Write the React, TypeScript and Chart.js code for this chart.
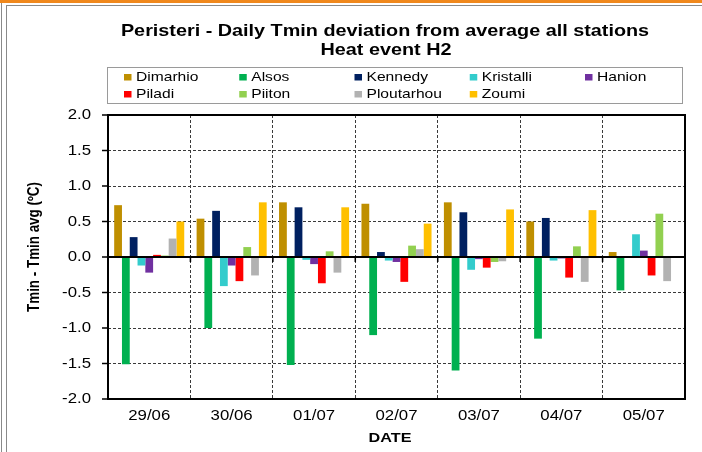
import React, { useEffect, useRef } from "react";
import { Chart, registerables } from "chart.js";

Chart.register(...registerables);

// ---------- data ----------
const dates = ["29/06", "30/06", "01/07", "02/07", "03/07", "04/07", "05/07"];
const stations = ["Dimarhio", "Alsos", "Kennedy", "Kristalli", "Hanion", "Piladi", "Piiton", "Ploutarhou", "Zoumi"];
const dimarhio = [0.73, 0.54, 0.77, 0.75, 0.77, 0.5, 0.07];
const alsos = [-1.51, -1.0, -1.52, -1.1, -1.6, -1.15, -0.47];
const kennedy = [0.28, 0.65, 0.7, 0.07, 0.63, 0.55, 0];
const kristalli = [-0.12, -0.41, -0.04, -0.05, -0.18, -0.05, 0.32];
const hanion = [-0.22, -0.12, -0.1, -0.07, -0.03, -0.02, 0.09];
const piladi = [0.03, -0.34, -0.37, -0.35, -0.15, -0.29, -0.26];
const piiton = [0.02, 0.14, 0.08, 0.16, -0.07, 0.15, 0.61];
const ploutarhou = [0.26, -0.26, -0.22, 0.11, -0.06, -0.35, -0.34];
const zoumi = [0.5, 0.77, 0.7, 0.47, 0.67, 0.66, 0];
const seriesValues = [dimarhio, alsos, kennedy, kristalli, hanion, piladi, piiton, ploutarhou, zoumi];
const seriesColors = ["#BF8F00", "#00B050", "#002060", "#33CCCC", "#7030A0", "#FF0000", "#92D050", "#B2B2B2", "#FFC000"];
const yMin = -2.0;
const yMax = 2.0;
const yStep = 0.5;
const titleLines = ["Peristeri - Daily Tmin deviation from average all stations", "Heat event H2"];
const xTitle = "DATE";
const yTitle = "Tmin - Tmin avg (ºC)";

// ---------- styling ----------
const FONT = "'Liberation Sans', Arial, sans-serif";
const SX = 1.2; // horizontal stretch of all text

function sText(
  ctx: CanvasRenderingContext2D,
  text: string,
  x: number,
  y: number,
  font: string,
  align: CanvasTextAlign,
  baseline: CanvasTextBaseline,
  rot = 0
) {
  ctx.save();
  ctx.translate(x, y);
  ctx.scale(SX, 1);
  if (rot) ctx.rotate(rot);
  ctx.font = font;
  ctx.textAlign = align;
  ctx.textBaseline = baseline;
  ctx.fillStyle = "#000";
  ctx.fillText(text, 0, 0);
  ctx.restore();
}

const framePlugin = {
  id: "frameDeco",
  beforeDraw(chart: any) {
    const ctx: CanvasRenderingContext2D = chart.ctx;
    const W = chart.width;
    const H = chart.height;
    ctx.save();
    ctx.fillStyle = "#fff";
    ctx.fillRect(0, 0, W, H);
    ctx.fillStyle = "#F0881C";
    ctx.fillRect(0, 0, W, 3);
    ctx.strokeStyle = "#8A8A8A";
    ctx.lineWidth = 1;
    ctx.beginPath();
    ctx.moveTo(6, 5.5);
    ctx.lineTo(W, 5.5);
    ctx.moveTo(1.5, 3);
    ctx.lineTo(1.5, H);
    ctx.moveTo(6.5, 5);
    ctx.lineTo(6.5, H);
    ctx.stroke();
    ctx.restore();
  },
  afterDraw(chart: any) {
    const ctx: CanvasRenderingContext2D = chart.ctx;
    const { left, right, top, bottom } = chart.chartArea;
    const xs = chart.scales.x;
    const ys = chart.scales.y;
    ctx.save();
    // zero line
    const y0 = ys.getPixelForValue(0);
    ctx.strokeStyle = "#000";
    ctx.lineWidth = 2;
    ctx.beginPath();
    ctx.moveTo(left, y0);
    ctx.lineTo(right, y0);
    ctx.stroke();
    // category boundary ticks on zero line
    const n = dates.length;
    const cw = (right - left) / n;
    ctx.lineWidth = 1.5;
    ctx.beginPath();
    for (let i = 0; i <= n; i++) {
      const bx = xs.getPixelForValue(0) - cw / 2 + i * cw;
      ctx.moveTo(bx, y0);
      ctx.lineTo(bx, y0 + 5);
    }
    ctx.stroke();
    // plot border
    ctx.lineWidth = 2;
    ctx.strokeRect(left, top, right - left, bottom - top);
    // y ticks + labels
    ctx.lineWidth = 1.5;
    ys.ticks.forEach((t: any) => {
      const py = ys.getPixelForValue(t.value);
      ctx.beginPath();
      ctx.moveTo(left - 6, py);
      ctx.lineTo(left, py);
      ctx.stroke();
      sText(ctx, Number(t.value).toFixed(1), left - 17, py + 0.5, `14px ${FONT}`, "right", "middle");
    });
    // x labels
    dates.forEach((d, i) => {
      const px = xs.getPixelForValue(i);
      sText(ctx, d, px, bottom + 17, `14px ${FONT}`, "center", "middle");
    });
    // axis titles
    sText(ctx, xTitle, 390, 438, `bold 13.5px ${FONT}`, "center", "middle");
    sText(ctx, yTitle, 35, 247, `bold 13.4px ${FONT}`, "center", "middle", -Math.PI / 2);
    // title
    sText(ctx, titleLines[0], 385, 36, `bold 16.5px ${FONT}`, "center", "alphabetic");
    sText(ctx, titleLines[1], 386, 55, `bold 16.5px ${FONT}`, "center", "alphabetic");
    // legend box
    ctx.strokeStyle = "#9A9A9A";
    ctx.lineWidth = 1;
    ctx.strokeRect(107.5, 67.5, 575, 36);
    const colX = 124;
    const colStep = 115.25;
    const rowBase = [81, 98];
    chart.data.datasets.forEach((ds: any, i: number) => {
      const c = i % 5;
      const r = Math.floor(i / 5);
      const mx = colX + c * colStep;
      const by = rowBase[r];
      ctx.fillStyle = ds.backgroundColor;
      ctx.fillRect(mx, by - 7, 7.5, 6.5);
      sText(ctx, ds.label, mx + 12, by, `13px ${FONT}`, "left", "alphabetic");
    });
    ctx.restore();
  },
};

export default function App() {
  const ref = useRef<HTMLCanvasElement | null>(null);
  useEffect(() => {
    if (!ref.current) return;
    const chart = new Chart(ref.current, {
      type: "bar",
      data: {
        labels: dates,
        datasets: stations.map((s, i) => ({
          label: s,
          data: seriesValues[i],
          backgroundColor: seriesColors[i],
          borderWidth: 0,
          categoryPercentage: 0.85,
          barPercentage: 1.0,
        })),
      },
      options: {
        responsive: false,
        animation: false,
        layout: { padding: { top: 115, right: 17, left: 0, bottom: 0 } },
        plugins: {
          legend: { display: false },
          title: { display: false },
          tooltip: { enabled: false },
        },
        scales: {
          x: {
            offset: true,
            grid: { offset: true, color: "#3A3A3A", lineWidth: 1, drawTicks: false },
            border: { display: false, dash: [3, 2] },
            ticks: { display: false },
            afterFit: (s: any) => {
              s.height = 53;
            },
          },
          y: {
            min: yMin,
            max: yMax,
            ticks: { display: false, stepSize: yStep },
            grid: { color: "#3A3A3A", lineWidth: 1, drawTicks: false },
            border: { display: false, dash: [3, 2] },
            afterFit: (s: any) => {
              s.width = 108;
            },
          },
        },
      } as any,
      plugins: [framePlugin],
    });
    return () => chart.destroy();
  }, []);
  return (
    <div style={{ position: "absolute", left: 0, top: 0, width: 702, height: 452 }}>
      <canvas ref={ref} width={702} height={452} style={{ width: 702, height: 452, display: "block" }} />
    </div>
  );
}
